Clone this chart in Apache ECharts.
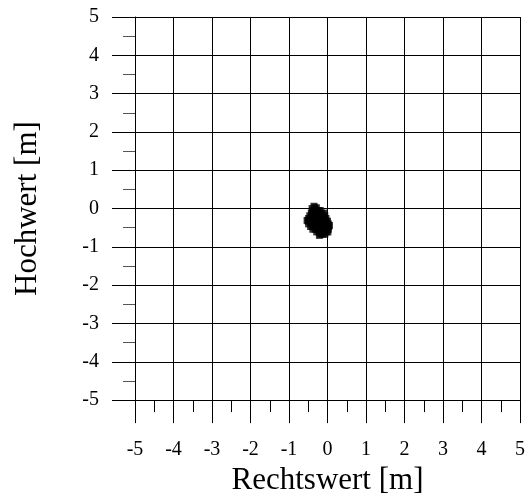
<!DOCTYPE html>
<html>
<head>
<meta charset="utf-8">
<script src="https://cdn.jsdelivr.net/npm/echarts@6/dist/echarts.min.js"></script>
<style>
  html, body { margin: 0; padding: 0; background: #fff; }
  #chart { width: 530px; height: 501px; }
</style>
</head>
<body>
<div id="chart"></div>
<script>
// Position offsets of the measured points, in metres
const rechtswert = [
  -0.33, -0.29,
  -0.38, -0.31, -0.24, -0.19,
  -0.42, -0.36, -0.30, -0.22, -0.15, -0.10,
  -0.46, -0.40, -0.33, -0.27, -0.20, -0.13, -0.07,
  -0.49, -0.43, -0.36, -0.29, -0.23, -0.16, -0.09, -0.04,
  -0.50, -0.44, -0.37, -0.30, -0.24, -0.17, -0.11, -0.04, 0.00,
  -0.49, -0.42, -0.35, -0.28, -0.21, -0.14, -0.08, -0.02, 0.02,
  -0.44, -0.38, -0.31, -0.25, -0.18, -0.12, -0.05, 0.01, 0.03,
  -0.38, -0.32, -0.26, -0.19, -0.13, -0.06, 0.00, 0.02,
  -0.28, -0.22, -0.15, -0.09, -0.03, 0.01,
  -0.18, -0.12, -0.07,
  -0.53, 0.05, -0.40, -0.21, -0.35
];
const hochwert = [
  0.02, 0.02,
  -0.05, -0.05, -0.05, -0.05,
  -0.12, -0.12, -0.12, -0.12, -0.12, -0.12,
  -0.19, -0.19, -0.19, -0.19, -0.19, -0.19, -0.19,
  -0.26, -0.26, -0.26, -0.26, -0.26, -0.26, -0.26, -0.26,
  -0.33, -0.33, -0.33, -0.33, -0.33, -0.33, -0.33, -0.33, -0.33,
  -0.40, -0.40, -0.40, -0.40, -0.40, -0.40, -0.40, -0.40, -0.40,
  -0.47, -0.47, -0.47, -0.47, -0.47, -0.47, -0.47, -0.47, -0.47,
  -0.54, -0.54, -0.54, -0.54, -0.54, -0.54, -0.54, -0.54,
  -0.61, -0.61, -0.61, -0.61, -0.61, -0.61,
  -0.67, -0.67, -0.67,
  -0.31, -0.44, 0.00, -0.70, 0.06
];
const axisMin = -5;
const axisMax = 5;
const axisStep = 1;

const points = rechtswert.map((x, i) => [x, hochwert[i]]);

const FONT = '"Liberation Serif", "Times New Roman", serif';

function makeAxis(isX) {
  return {
    type: 'value',
    min: axisMin,
    max: axisMax,
    interval: axisStep,
    name: isX ? 'Rechtswert [m]' : 'Hochwert [m]',
    nameLocation: 'middle',
    nameGap: isX ? 62 : 92,
    nameTextStyle: { fontFamily: FONT, fontSize: 31, color: '#000' },
    axisLine: { show: true, onZero: false, lineStyle: { color: '#000', width: 1 } },
    axisTick: { show: true, inside: false, length: 23, lineStyle: { color: '#000', width: 1 } },
    minorTick: { show: true, splitNumber: 2, length: 12, lineStyle: { color: isX ? '#000' : '#555', width: 1 } },
    splitLine: { show: true, lineStyle: { color: '#000', width: 1 } },
    axisLabel: {
      fontFamily: FONT, fontSize: 20, color: '#000',
      margin: isX ? 40 : 36,
      showMinLabel: true, showMaxLabel: true
    }
  };
}

const chart = echarts.init(document.getElementById('chart'), null, { renderer: 'canvas' });
chart.setOption({
  animation: false,
  backgroundColor: '#fff',
  grid: { left: 135, right: 10, top: 17, bottom: 100, containLabel: false },
  xAxis: makeAxis(true),
  yAxis: makeAxis(false),
  series: [{
    type: 'scatter',
    data: points,
    symbol: 'rect',
    symbolSize: 7,
    itemStyle: { color: '#000' },
    silent: true
  }]
});
</script>
</body>
</html>
